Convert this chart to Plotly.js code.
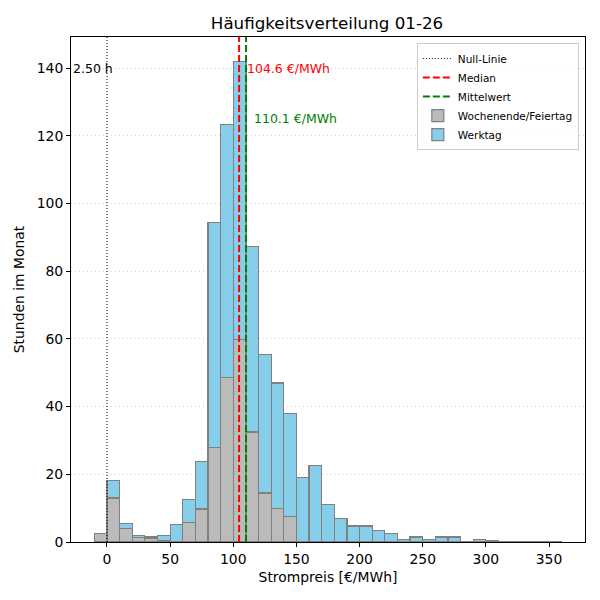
<!DOCTYPE html>
<html>
<head>
<meta charset="utf-8">
<script src="https://cdn.plot.ly/plotly-3.1.0.min.js"></script>
<style>
  html, body { margin: 0; padding: 0; background: #fff; }
  #chart { width: 600px; height: 600px; }
</style>
</head>
<body>
<div id="chart"></div>
<script>
// bin centres (10 €/MWh wide bins from -10 to 360)
const binCenters = [-5, 5, 15, 25, 35, 45, 55, 65, 75, 85, 95, 105, 115, 125, 135, 145,
  155, 165, 175, 185, 195, 205, 215, 225, 235, 245, 255, 265, 275, 285, 295, 305,
  315, 325, 335, 345, 355];
// hours per bin, weekend / holiday
const hoursWeekend = [2.5, 13, 4, 1.25, 1, 0.5, 0.25, 5.75, 9.75, 28, 48.5, 59.75, 32.5, 14.5, 10, 7.5,
  0, 0, 0, 0, 0, 0, 0, 0, 0, 0, 0, 0, 0, 0, 0, 0,
  0, 0, 0, 0, 0];
// hours per bin, working days
const hoursWorkday = [0, 5.25, 1.5, 0.75, 0.5, 1.5, 5, 6.75, 14, 66.5, 74.75, 82.25, 54.75, 41, 37, 30.5,
  19, 22.5, 11, 7, 4.75, 4.75, 3.5, 2.5, 0.75, 1.5, 0.75, 1.5, 1.5, 0.25, 0.75, 0.5,
  0, 0.25, 0, 0, 0.25];

const median = 104.6;
const mean = 110.1;
const negHoursLabel = "2.50 h";
const titleText = "Häufigkeitsverteilung 01-26";

const yMax = 149.2;
const xRange = [-28.5, 378.5];
const font = "DejaVu Sans, sans-serif";

const traces = [
  {
    type: "bar", x: binCenters, y: hoursWeekend, width: 10,
    name: "Wochenende/Feiertag", legendrank: 4,
    marker: { color: "#bbbbbb", line: { color: "#808080", width: 1.2 } }
  },
  {
    type: "bar", x: binCenters, y: hoursWorkday, width: 10,
    name: "Werktag", legendrank: 5,
    marker: { color: "#87ceeb", line: { color: "#808080", width: 1.2 } }
  },
  {
    type: "scatter", mode: "lines", x: [0, 0], y: [0, yMax],
    name: "Null-Linie", legendrank: 1,
    line: { color: "black", width: 1, dash: "1px,2px" }
  },
  {
    type: "scatter", mode: "lines", x: [median, median], y: [0, yMax],
    name: "Median", legendrank: 2,
    line: { color: "red", width: 2, dash: "7px,3px" }
  },
  {
    type: "scatter", mode: "lines", x: [mean, mean], y: [0, yMax],
    name: "Mittelwert", legendrank: 3,
    line: { color: "green", width: 2, dash: "7px,3px" }
  }
];

const layout = {
  width: 600, height: 600,
  margin: { l: 71, r: 15, t: 37, b: 58 },
  paper_bgcolor: "white", plot_bgcolor: "white",
  font: { family: font, size: 13.9, color: "black" },
  barmode: "stack", bargap: 0,
  title: {
    text: titleText, x: 0.545, xanchor: "center", y: 0.962, yanchor: "middle",
    font: { family: font, size: 16.7, color: "black" }
  },
  xaxis: {
    range: xRange, tickvals: [0, 50, 100, 150, 200, 250, 300, 350],
    ticks: "outside", ticklen: 4, tickcolor: "black",
    showline: true, mirror: true, linecolor: "black", linewidth: 1,
    showgrid: false, zeroline: false,
    title: { text: "Strompreis [€/MWh]", standoff: 6, font: { size: 13.9 } }
  },
  yaxis: {
    range: [0, yMax], tickvals: [0, 20, 40, 60, 80, 100, 120, 140],
    ticks: "outside", ticklen: 4, tickcolor: "black",
    showline: true, mirror: true, linecolor: "black", linewidth: 1,
    showgrid: true, gridcolor: "#d4d4d4", griddash: "1px,3px", gridwidth: 1,
    zeroline: false,
    title: { text: "Stunden im Monat", standoff: 8, font: { size: 13.9 } }
  },
  legend: {
    x: 0.988, xanchor: "right", y: 0.988, yanchor: "top",
    bgcolor: "rgba(255,255,255,0.85)", bordercolor: "#cccccc", borderwidth: 1,
    font: { size: 10.5 }, tracegroupgap: 0, itemwidth: 30,
    traceorder: "normal"
  },
  annotations: [
    {
      x: median + 5, y: 140, xref: "x", yref: "y", text: median.toFixed(1) + " €/MWh",
      showarrow: false, xanchor: "left", yanchor: "middle",
      font: { color: "red", size: 12.5 }
    },
    {
      x: mean + 5, y: 125, xref: "x", yref: "y", text: mean.toFixed(1) + " €/MWh",
      showarrow: false, xanchor: "left", yanchor: "middle",
      font: { color: "green", size: 12.5 }
    },
    {
      x: -28.5, y: 140, xref: "x", yref: "y", text: negHoursLabel,
      showarrow: false, xanchor: "left", yanchor: "middle",
      font: { color: "black", size: 12.5 }
    }
  ]
};

Plotly.newPlot("chart", traces, layout, { displayModeBar: false, staticPlot: true });
</script>
</body>
</html>
